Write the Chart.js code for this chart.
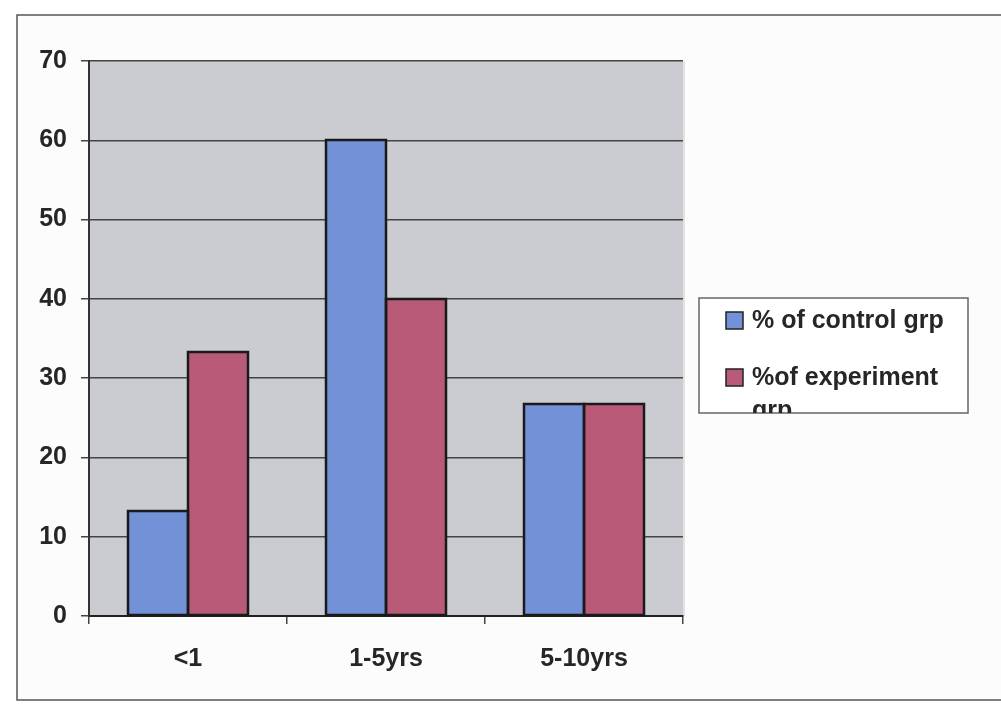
<!DOCTYPE html>
<html>
<head>
<meta charset="utf-8">
<script src="https://cdn.jsdelivr.net/npm/chart.js@4/dist/chart.umd.min.js"></script>
<style>
  html, body { margin: 0; padding: 0; background: #ffffff; }
  #wrap { position: relative; width: 1001px; height: 710px; }
  canvas { display: block; }
</style>
</head>
<body>
<div id="wrap"><canvas id="c" width="1001" height="710"></canvas></div>
<script>
// Duration groups and the share of each group (percent)
const categories = ['<1', '1-5yrs', '5-10yrs'];
const controlGroup = [13.3, 60, 26.7];
const experimentGroup = [33.3, 40, 26.7];
const seriesLabels = ['% of control grp', '%of experiment grp'];
const yTicks = [0, 10, 20, 30, 40, 50, 60, 70];

const FONT = 'Liberation Sans, Arial, sans-serif';
const TEXT = '#262626';
const EDGE = '#1a1a1a';

// Outer chart frame and grey plot background
const backdrop = {
  id: 'backdrop',
  beforeDraw(chart) {
    const ctx = chart.ctx, a = chart.chartArea;
    ctx.save();
    ctx.fillStyle = '#fcfcfc';
    ctx.fillRect(17, 15, 1001 - 17, 685);
    ctx.strokeStyle = '#555';
    ctx.lineWidth = 1.5;
    ctx.strokeRect(17, 15, 1010, 685);
    ctx.fillStyle = '#cbccd1';
    ctx.fillRect(a.left, a.top, a.right - a.left, a.bottom - a.top);
    ctx.strokeStyle = '#e2e2e4';
    ctx.lineWidth = 2;
    ctx.beginPath();
    ctx.moveTo(a.right + 1, a.top);
    ctx.lineTo(a.right + 1, a.bottom);
    ctx.stroke();
    ctx.restore();
  }
};

// Dark outline round every bar; neighbouring bars share one edge line
const barOutline = {
  id: 'barOutline',
  afterDatasetsDraw(chart) {
    const ctx = chart.ctx;
    ctx.save();
    ctx.strokeStyle = EDGE;
    ctx.lineWidth = 2.5;
    ctx.lineJoin = 'miter';
    chart.data.datasets.forEach((ds, i) => {
      chart.getDatasetMeta(i).data.forEach(bar => {
        const l = Math.round(bar.x - bar.width / 2);
        const r = Math.round(bar.x + bar.width / 2);
        const t = Math.round(Math.min(bar.y, bar.base));
        const b = Math.round(Math.max(bar.y, bar.base));
        ctx.strokeRect(l, t, r - l, b - t);
      });
    });
    ctx.restore();
  }
};

// Boxed legend on the right, with word wrapping clipped by the box
const boxLegend = {
  id: 'boxLegend',
  afterDraw(chart) {
    const ctx = chart.ctx;
    const box = { x: 699, y: 298, w: 269, h: 115 };
    ctx.save();
    ctx.fillStyle = '#ffffff';
    ctx.fillRect(box.x, box.y, box.w, box.h);
    ctx.strokeStyle = '#666';
    ctx.lineWidth = 1.5;
    ctx.strokeRect(box.x, box.y, box.w, box.h);
    ctx.beginPath();
    ctx.rect(box.x, box.y, box.w, box.h);
    ctx.clip();
    ctx.font = 'bold 25px ' + FONT;
    ctx.textBaseline = 'alphabetic';
    const textX = 752, maxW = box.x + box.w - textX - 6;
    const rows = [328, 385];
    chart.data.datasets.forEach((ds, i) => {
      const base = rows[i];
      ctx.fillStyle = ds.backgroundColor;
      ctx.fillRect(726, base - 16, 17, 17);
      ctx.strokeStyle = '#222';
      ctx.lineWidth = 1.5;
      ctx.strokeRect(726, base - 16, 17, 17);
      // wrap words to fit the box
      const words = ds.label.split(' ');
      const lines = [];
      let cur = '';
      words.forEach(w => {
        const t = cur ? cur + ' ' + w : w;
        if (ctx.measureText(t).width > maxW && cur) { lines.push(cur); cur = w; }
        else cur = t;
      });
      if (cur) lines.push(cur);
      ctx.fillStyle = TEXT;
      lines.forEach((ln, k) => ctx.fillText(ln, textX, base + k * 33));
    });
    ctx.restore();
  }
};

new Chart(document.getElementById('c'), {
  type: 'bar',
  data: {
    labels: categories,
    datasets: [
      { label: seriesLabels[0], data: controlGroup, backgroundColor: '#7391d7' },
      { label: seriesLabels[1], data: experimentGroup, backgroundColor: '#b95a78' }
    ].map(d => Object.assign(d, {
      borderWidth: 0, inflateAmount: 0,
      categoryPercentage: 0.606, barPercentage: 1
    }))
  },
  options: {
    responsive: false,
    animation: false,
    layout: { padding: { left: 0, right: 318, top: 61, bottom: 0 } },
    plugins: { legend: { display: false }, tooltip: { enabled: false } },
    scales: {
      x: {
        grid: { drawOnChartArea: false, drawTicks: true, tickLength: 8, color: '#444', lineWidth: 1.5, offset: true },
        border: { display: true, color: '#222', width: 2 },
        ticks: { color: TEXT, font: { family: FONT, size: 25, weight: 'bold' }, padding: 20, maxRotation: 0 },
        afterFit(s) { s.height = 94; }
      },
      y: {
        min: 0, max: 70,
        afterBuildTicks(s) { s.ticks = yTicks.map(v => ({ value: v })); },
        grid: { color: '#444', lineWidth: 1.5, drawTicks: true, tickLength: 8 },
        border: { display: true, color: '#333', width: 2 },
        ticks: { color: TEXT, font: { family: FONT, size: 25, weight: 'bold' }, padding: 14 },
        afterFit(s) { s.width = 89; }
      }
    }
  },
  plugins: [backdrop, barOutline, boxLegend]
});
</script>
</body>
</html>
